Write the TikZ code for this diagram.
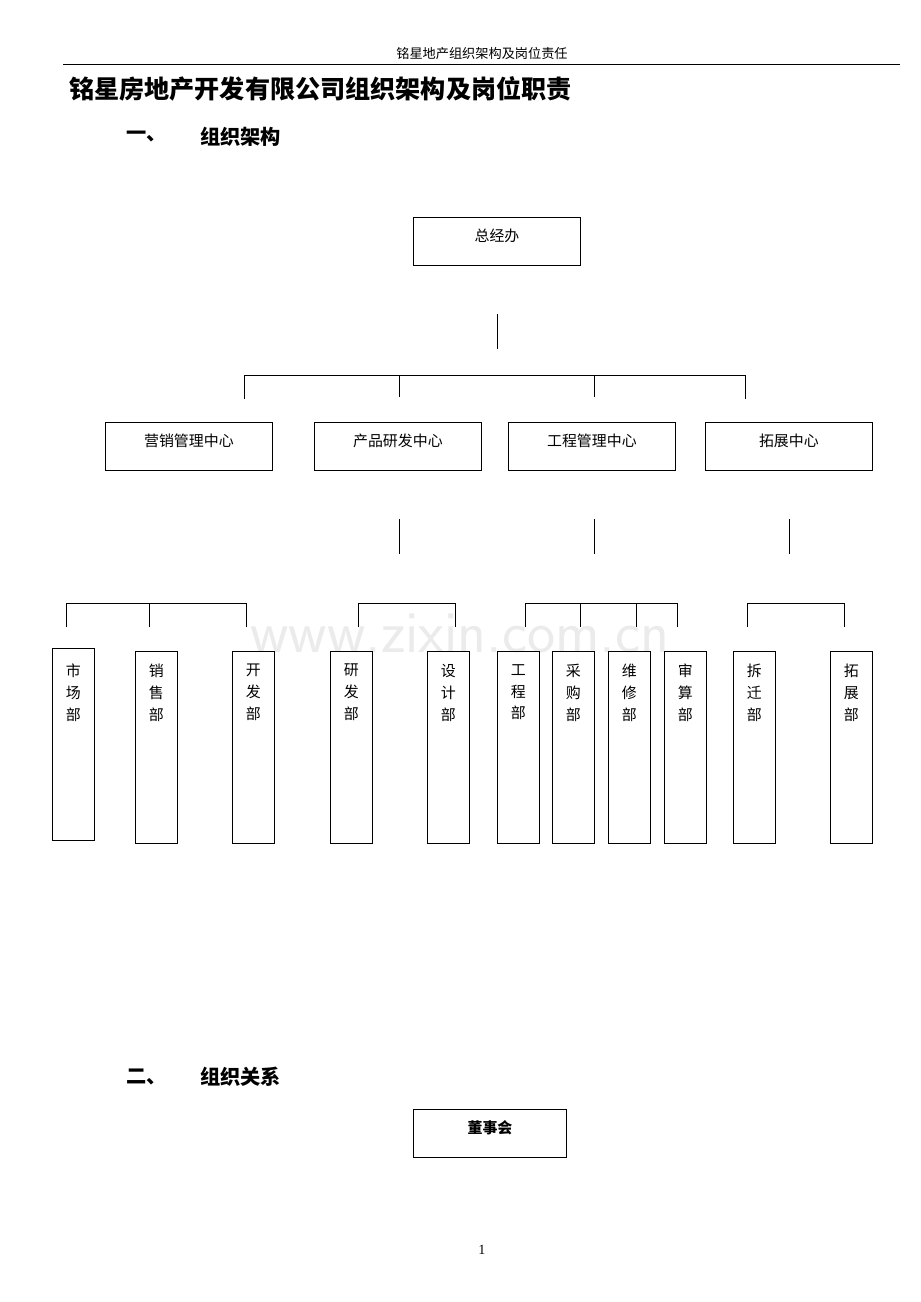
\documentclass[tikz,border=0pt]{standalone}
\usepackage{fontspec}
\setmainfont{Liberation Serif}
\newfontfamily\cjk{Noto Sans CJK SC}
\usetikzlibrary{positioning}
\begin{document}
\begin{tikzpicture}[x=0.02cm,y=-0.02cm,
    box/.style={draw, line width=0.5pt, inner sep=0pt, anchor=north west, font=\cjk\fontsize{8.5}{10}\selectfont, align=center},
    dept/.style={box, minimum width=0.84cm, minimum height=3.84cm},
    link/.style={line width=0.5pt}
]
\useasboundingbox (0,0) rectangle (920,1302);

% Page head
\node[font=\cjk\fontsize{7.5}{9}\selectfont] (head) at (482,53) {铭星地产组织架构及岗位责任};
\coordinate (hl) at (63,64); \coordinate (hr) at (900,64);
\draw[link] (hl) -- (hr);
\node[anchor=west, font=\cjk\bfseries\fontsize{14.3}{16}\selectfont] (title) at (63,89) {铭星房地产开发有限公司组织架构及岗位职责};
\node[anchor=west, font=\cjk\bfseries\fontsize{11.5}{14}\selectfont] (s1) at (120,137) {一、};
\node[anchor=west, font=\cjk\bfseries\fontsize{11.5}{14}\selectfont] (s1t) at (194,137) {组织架构};

% Top
\node[box, minimum width=3.34cm, minimum height=0.96cm] (gm) at (413,217) {};
\node[font=\cjk\fontsize{8.5}{10}\selectfont] at (497,236) {总经办};
\coordinate (t1) at (497,314); \coordinate (t2) at (497,349);
\draw[link] (t1) -- (t2);
\draw[link] (244,399) -- (244,375) -- (745,375) -- (745,399);
\foreach \x in {399,594} \draw[link] (\x,375) -- (\x,397);

% Centres
\foreach \n/\x/\t in {c1/105/营销管理中心, c2/314/产品研发中心, c3/508/工程管理中心, c4/705/拓展中心}{
  \node[box, minimum width=3.34cm, minimum height=0.96cm] (\n) at (\x,422) {};
  \node[font=\cjk\fontsize{8.5}{10}\selectfont] at ([yshift=-0.38cm]\n.north) {\t};
}
\foreach \x in {399,594,789} \draw[link] (\x,519) -- (\x,554);

% Brackets
\draw[link] (66,627) -- (66,603) -- (246,603) -- (246,627);
\draw[link] (149,603) -- (149,627);
\draw[link] (358,627) -- (358,603) -- (455,603) -- (455,627);
\draw[link] (525,627) -- (525,603) -- (677,603) -- (677,627);
\foreach \x in {580,636} \draw[link] (\x,603) -- (\x,627);
\draw[link] (747,627) -- (747,603) -- (844,603) -- (844,627);

% Watermark
\node[text=black!8, font=\fontsize{34}{36}\selectfont] (wm) at (460,633) {\sffamily www.zixin.com.cn};

% Departments
\node[dept] (d1) at (52,648) {};
\node[font=\cjk\fontsize{8.5}{12.5}\selectfont, align=center, anchor=north] at ([yshift=-0.2cm]d1.north) {市\\场\\部};
\foreach \n/\x/\a/\b in {d2/135/销/售, d3/232/开/发, d4/330/研/发, d5/427/设/计, d6/497/工/程, d7/552/采/购, d8/608/维/修, d9/664/审/算, d10/733/拆/迁, d11/830/拓/展}{
  \node[dept] (\n) at (\x,651) {};
  \node[font=\cjk\fontsize{8.5}{12.5}\selectfont, align=center, anchor=north] at ([yshift=-0.14cm]\n.north) {\a\\\b\\部};
}

% Part two
\node[anchor=west, font=\cjk\bfseries\fontsize{11.5}{14}\selectfont] (s2) at (120,1077) {二、};
\node[anchor=west, font=\cjk\bfseries\fontsize{11.5}{14}\selectfont] (s2t) at (194,1077) {组织关系};
\node[box, minimum width=3.06cm, minimum height=0.96cm] (board) at (413,1109) {};
\node[font=\cjk\bfseries\fontsize{8.5}{10}\selectfont] at (490,1128) {董事会};
\node[font=\fontsize{8}{9}\selectfont] (pg) at (482,1250) {1};
\end{tikzpicture}
\end{document}
